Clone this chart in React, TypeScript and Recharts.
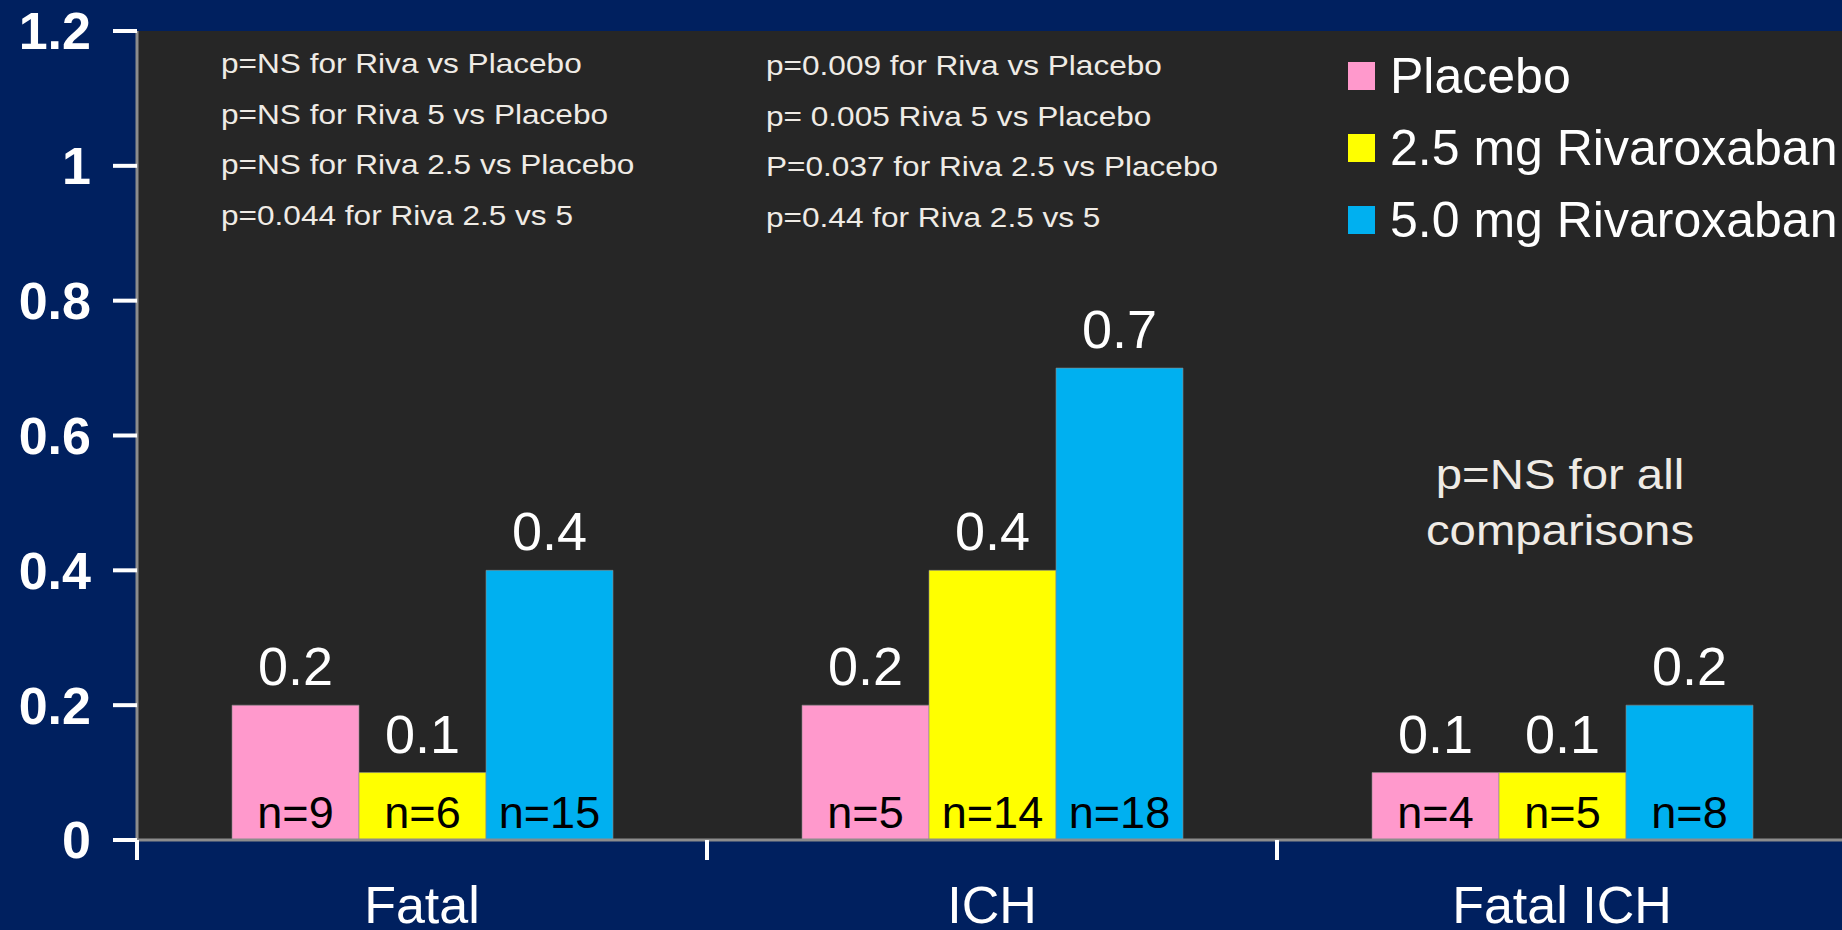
import { BarChart, Bar, XAxis, YAxis, CartesianGrid, LabelList, Legend } from 'recharts';

const FONT = '"Liberation Sans", Arial, sans-serif';
const NAVY = '#00205F';
const PLOT_BG = '#262626';
const NOTE_COLOR = '#EFEBE5';

// data
const categories = ['Fatal', 'ICH', 'Fatal ICH'];
const seriesNames = ['Placebo', '2.5 mg Rivaroxaban', '5.0 mg Rivaroxaban'];
const placebo = [0.2, 0.2, 0.1];
const riva25 = [0.1, 0.4, 0.1];
const riva50 = [0.4, 0.7, 0.2];
const nPlacebo = [9, 5, 4];
const nRiva25 = [6, 14, 5];
const nRiva50 = [15, 18, 8];
const yTicks = [0, 0.2, 0.4, 0.6, 0.8, 1, 1.2];

const fatalNotes = [
  'p=NS for Riva vs Placebo',
  'p=NS for Riva 5 vs Placebo',
  'p=NS for Riva 2.5 vs Placebo',
  'p=0.044 for Riva 2.5 vs 5',
];
const ichNotes = [
  'p=0.009 for Riva vs Placebo',
  'p= 0.005 Riva 5 vs Placebo',
  'P=0.037 for Riva 2.5 vs Placebo',
  'p=0.44 for Riva 2.5 vs 5',
];
const fatalIchNotes = ['p=NS for all', 'comparisons'];

const data = categories.map((name, i) => ({
  name,
  placebo: placebo[i],
  riva25: riva25[i],
  riva50: riva50[i],
  nPlacebo: nPlacebo[i],
  nRiva25: nRiva25[i],
  nRiva50: nRiva50[i],
}));

// category tick: white stub on the band boundary + the label underneath
const CategoryTick = (props: any) => {
  const { x, y, payload } = props;
  const half = payload?.offset ?? 0;
  return (
    <g>
      <line x1={x - half} x2={x - half} y1={y} y2={y + 20} stroke="#fff" strokeWidth={4} />
      <text x={x} y={y + 83} textAnchor="middle" fill="#fff" fontSize={52} fontFamily={FONT}>
        {payload.value}
      </text>
    </g>
  );
};

// keep the legend in series order (recharts sorts it otherwise)
const renderLegend = (props: any) => {
  const items = [...(props.payload || [])].sort(
    (a: any, b: any) => seriesNames.indexOf(a.value) - seriesNames.indexOf(b.value)
  );
  return (
    <div style={{ display: 'flex', flexDirection: 'column' }}>
      {items.map((item: any) => (
        <div key={item.value} style={{ display: 'flex', alignItems: 'center', height: 72 }}>
          <span style={{ display: 'inline-block', width: 27, height: 28, background: item.color, marginRight: 15 }} />
          <span style={{ color: '#fff', fontSize: 50, fontFamily: FONT, whiteSpace: 'nowrap', lineHeight: 1 }}>
            {item.value}
          </span>
        </div>
      ))}
    </div>
  );
};

const nLabel = (v: any) => `n=${v}`;

export default function App() {
  return (
    <div style={{ position: 'relative', width: 1842, height: 930, overflow: 'hidden', background: NAVY }}>
      <style>{'body{margin:0}'}</style>
      <BarChart
        width={1848}
        height={930}
        data={data}
        margin={{ top: 31, right: 1, bottom: 0, left: 0 }}
        barSize={127}
        barGap={0}
      >
        <CartesianGrid horizontal={false} vertical={false} fill={PLOT_BG} />
        <XAxis
          dataKey="name"
          height={90}
          axisLine={{ stroke: '#8c8c8c', strokeWidth: 3 }}
          tickLine={false}
          tickSize={0}
          tickMargin={0}
          tick={<CategoryTick />}
          interval={0}
        />
        <YAxis
          width={137}
          domain={[0, 1.2]}
          ticks={yTicks}
          interval={0}
          axisLine={{ stroke: '#8c8c8c', strokeWidth: 3 }}
          tickLine={{ stroke: '#fff', strokeWidth: 4 }}
          tickSize={24}
          tickMargin={22}
          tick={{ fill: '#fff', fontSize: 52, fontWeight: 'bold', fontFamily: FONT }}
          tickFormatter={(v: number) => String(Number(v.toFixed(1)))}
        />
        <Legend
          layout="vertical"
          align="center"
          verticalAlign="middle"
          content={renderLegend}
          wrapperStyle={{ left: 1348, top: 40, width: 520 }}
        />
        <Bar dataKey="placebo" name={seriesNames[0]} fill="#FF99CC" stroke="#8a8a8a" strokeOpacity={0.6} isAnimationActive={false}>
          <LabelList dataKey="placebo" position="top" offset={20} fill="#fff" fontSize={54} fontFamily={FONT} />
          <LabelList dataKey="nPlacebo" position="insideBottom" offset={12} fill="#000" fontSize={45} fontFamily={FONT} formatter={nLabel} />
        </Bar>
        <Bar dataKey="riva25" name={seriesNames[1]} fill="#FFFF00" stroke="#8a8a8a" strokeOpacity={0.6} isAnimationActive={false}>
          <LabelList dataKey="riva25" position="top" offset={20} fill="#fff" fontSize={54} fontFamily={FONT} />
          <LabelList dataKey="nRiva25" position="insideBottom" offset={12} fill="#000" fontSize={45} fontFamily={FONT} formatter={nLabel} />
        </Bar>
        <Bar dataKey="riva50" name={seriesNames[2]} fill="#00B0F0" stroke="#8a8a8a" strokeOpacity={0.6} isAnimationActive={false}>
          <LabelList dataKey="riva50" position="top" offset={20} fill="#fff" fontSize={54} fontFamily={FONT} />
          <LabelList dataKey="nRiva50" position="insideBottom" offset={12} fill="#000" fontSize={45} fontFamily={FONT} formatter={nLabel} />
        </Bar>
      </BarChart>

      {/* p-value notes on top of the plot */}
      <svg width={1842} height={930} style={{ position: 'absolute', left: 0, top: 0, pointerEvents: 'none' }}>
        <g fill={NOTE_COLOR} fontSize={27} fontFamily={FONT}>
          {fatalNotes.map((t, i) => (
            <text key={t} transform={`translate(221, ${73 + i * 50.5}) scale(1.17, 1)`}>{t}</text>
          ))}
          {ichNotes.map((t, i) => (
            <text key={t} transform={`translate(766, ${75 + i * 50.5}) scale(1.17, 1)`}>{t}</text>
          ))}
        </g>
        <g fill={NOTE_COLOR} fontSize={43} fontFamily={FONT} textAnchor="middle">
          {fatalIchNotes.map((t, i) => (
            <text key={t} transform={`translate(1560, ${489 + i * 56}) scale(1.1, 1)`}>{t}</text>
          ))}
        </g>
      </svg>
    </div>
  );
}
